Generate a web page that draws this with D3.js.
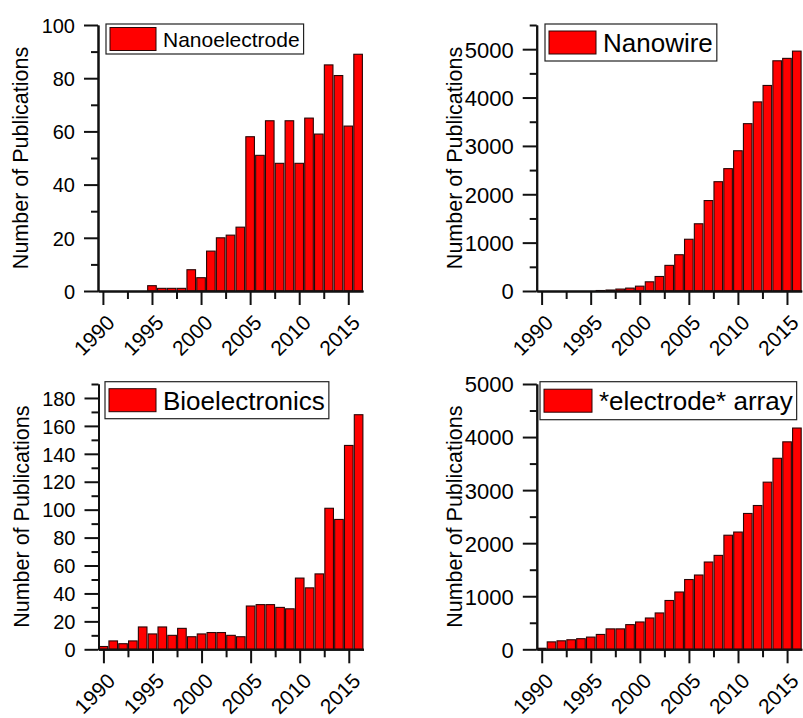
<!DOCTYPE html>
<html>
<head>
<meta charset="utf-8" />
<style>
  html, body { margin: 0; padding: 0; background: #fff; }
  text { font-family: "Liberation Sans", Arial, sans-serif; fill: #000; }
</style>
</head>
<body>
<svg width="803" height="718"></svg>
<script src="https://d3js.org/d3.v7.min.js"></script>
<script>
// publication counts per year
var years = [1990, 1991, 1992, 1993, 1994, 1995, 1996, 1997, 1998, 1999,
             2000, 2001, 2002, 2003, 2004, 2005, 2006, 2007, 2008, 2009,
             2010, 2011, 2012, 2013, 2014, 2015, 2016];
var yearTicks = [1990, 1995, 2000, 2005, 2010, 2015];

var nanoelectrode = [0, 0, 0, 0, 0, 2, 1, 1, 1, 8,
                     5, 15, 20, 21, 24, 58, 51, 64, 48, 64,
                     48, 65, 59, 85, 81, 62, 89];
var nanowire = [0, 0, 0, 0, 0, 0, 10, 20, 40, 60,
                100, 190, 300, 530, 750, 1070, 1390, 1870, 2260, 2530,
                2900, 3460, 3910, 4250, 4760, 4810, 4960];
var bioelectronics = [2, 6, 4, 6, 16, 11, 16, 10, 15, 9,
                      11, 12, 12, 10, 9, 31, 32, 32, 30, 29,
                      51, 44, 54, 101, 93, 146, 168];
var electrodeArray = [20, 140, 160, 180, 200, 230, 280, 385, 385, 465,
                      515, 590, 685, 920, 1080, 1315, 1400, 1645, 1770, 2150,
                      2210, 2560, 2710, 3150, 3600, 3910, 4170];

var seriesNames = ["Nanoelectrode", "Nanowire", "Bioelectronics", "*electrode* array"];
var yTicks1 = [0, 20, 40, 60, 80, 100];
var yTicks2 = [0, 1000, 2000, 3000, 4000, 5000];
var yTicks3 = [0, 20, 40, 60, 80, 100, 120, 140, 160, 180];
var yTicks4 = [0, 1000, 2000, 3000, 4000, 5000];

// layout for each panel
var panels = [
  { name: seriesNames[0], values: nanoelectrode, ticks: yTicks1, yMax: 100, minor: 10,
    left: 98, top: 25, bottom: 291, tickFont: 20, titleOff: 70,
    leg: { x: 106, y: 24, h: 30, sw: 46, sh: 23, font: 21 } },
  { name: seriesNames[1], values: nanowire, ticks: yTicks2, yMax: 5500, minor: 500,
    left: 536.7, top: 25, bottom: 291, tickFont: 22, titleOff: 75,
    leg: { x: 545, y: 24, h: 37, sw: 47, sh: 23, font: 26 } },
  { name: seriesNames[2], values: bioelectronics, ticks: yTicks3, yMax: 190, minor: 10,
    left: 98.5, top: 384, bottom: 649.3, tickFont: 20, titleOff: 70,
    leg: { x: 105, y: 381.7, h: 37, sw: 47, sh: 23, font: 26 } },
  { name: seriesNames[3], values: electrodeArray, ticks: yTicks4, yMax: 5000, minor: 500,
    left: 536.8, top: 384, bottom: 649.3, tickFont: 22, titleOff: 75,
    leg: { x: 540, y: 381.7, h: 38, sw: 48, sh: 23, font: 26 } }
];

var svg = d3.select("svg");

panels.forEach(function (p) {
  var g = svg.append("g");

  var x = d3.scaleLinear().domain([1989.5, 2016.5]).range([p.left, p.left + 265]);
  var y = d3.scaleLinear().domain([0, p.yMax]).range([p.bottom, p.top]);
  var bw = 8.6;

  g.selectAll("rect.bar")
    .data(years.map(function (yr, i) { return { year: yr, v: p.values[i] }; })
      .filter(function (d) { return d.v > 0; }))
    .enter().append("rect")
    .attr("class", "bar")
    .attr("x", function (d) { return x(d.year) - bw / 2; })
    .attr("y", function (d) { return y(d.v); })
    .attr("width", bw)
    .attr("height", function (d) { return p.bottom - y(d.v); })
    .attr("fill", "#ff0000")
    .attr("stroke", "#2a0505")
    .attr("stroke-width", 1.1);

  // minor ticks: halfway between labelled ones
  var yMinor = d3.range(p.minor, p.yMax + 1, p.minor * 2);
  var xMinor = yearTicks.map(function (t) { return t + 2.5; }).filter(function (t) { return t < 2016.5; });

  g.append("g")
    .attr("transform", "translate(" + p.left + ",0)")
    .call(d3.axisLeft(y).tickValues(yMinor).tickSize(7).tickSizeOuter(0).tickFormat(""));
  var yAxis = g.append("g")
    .attr("transform", "translate(" + p.left + ",0)")
    .call(d3.axisLeft(y).tickValues(p.ticks).tickSize(14).tickSizeOuter(0).tickPadding(9)
      .tickFormat(d3.format("d")));
  yAxis.selectAll("text").style("font-size", p.tickFont + "px").attr("dy", "0.36em");

  g.append("g")
    .attr("transform", "translate(0," + p.bottom + ")")
    .call(d3.axisBottom(x).tickValues(xMinor).tickSize(8).tickSizeOuter(0).tickFormat(""));
  g.append("g")
    .attr("transform", "translate(0," + p.bottom + ")")
    .call(d3.axisBottom(x).tickValues(yearTicks).tickSize(14).tickSizeOuter(0).tickFormat(""));

  g.selectAll(".domain, .tick line")
    .attr("stroke", "#111")
    .attr("stroke-width", 2);

  g.selectAll("text.xlab")
    .data(yearTicks)
    .enter().append("text")
    .attr("class", "xlab")
    .attr("text-anchor", "end")
    .attr("transform", function (d) {
      return "translate(" + (x(d) + 13) + "," + (p.bottom + 33) + ") rotate(-45)";
    })
    .style("font-size", "21px")
    .text(function (d) { return d; });

  g.append("text")
    .attr("text-anchor", "middle")
    .attr("transform", "translate(" + (p.left - p.titleOff) + "," + ((p.top + p.bottom) / 2) + ") rotate(-90)")
    .style("font-size", "21.5px")
    .text("Number of Publications");

  // legend
  var L = p.leg;
  var box = g.append("rect")
    .attr("x", L.x).attr("y", L.y).attr("height", L.h)
    .attr("fill", "#fff").attr("stroke", "#222").attr("stroke-width", 1.2);
  g.append("rect")
    .attr("x", L.x + 4).attr("y", L.y + (L.h - L.sh) / 2)
    .attr("width", L.sw).attr("height", L.sh)
    .attr("fill", "#ff0000").attr("stroke", "#2a0505").attr("stroke-width", 1);
  var lt = g.append("text")
    .attr("x", L.x + L.sw + 11)
    .attr("y", L.y + L.h / 2)
    .attr("dy", "0.36em")
    .style("font-size", L.font + "px")
    .text(p.name);
  box.attr("width", L.sw + 15 + lt.node().getComputedTextLength());
});
</script>
</body>
</html>
